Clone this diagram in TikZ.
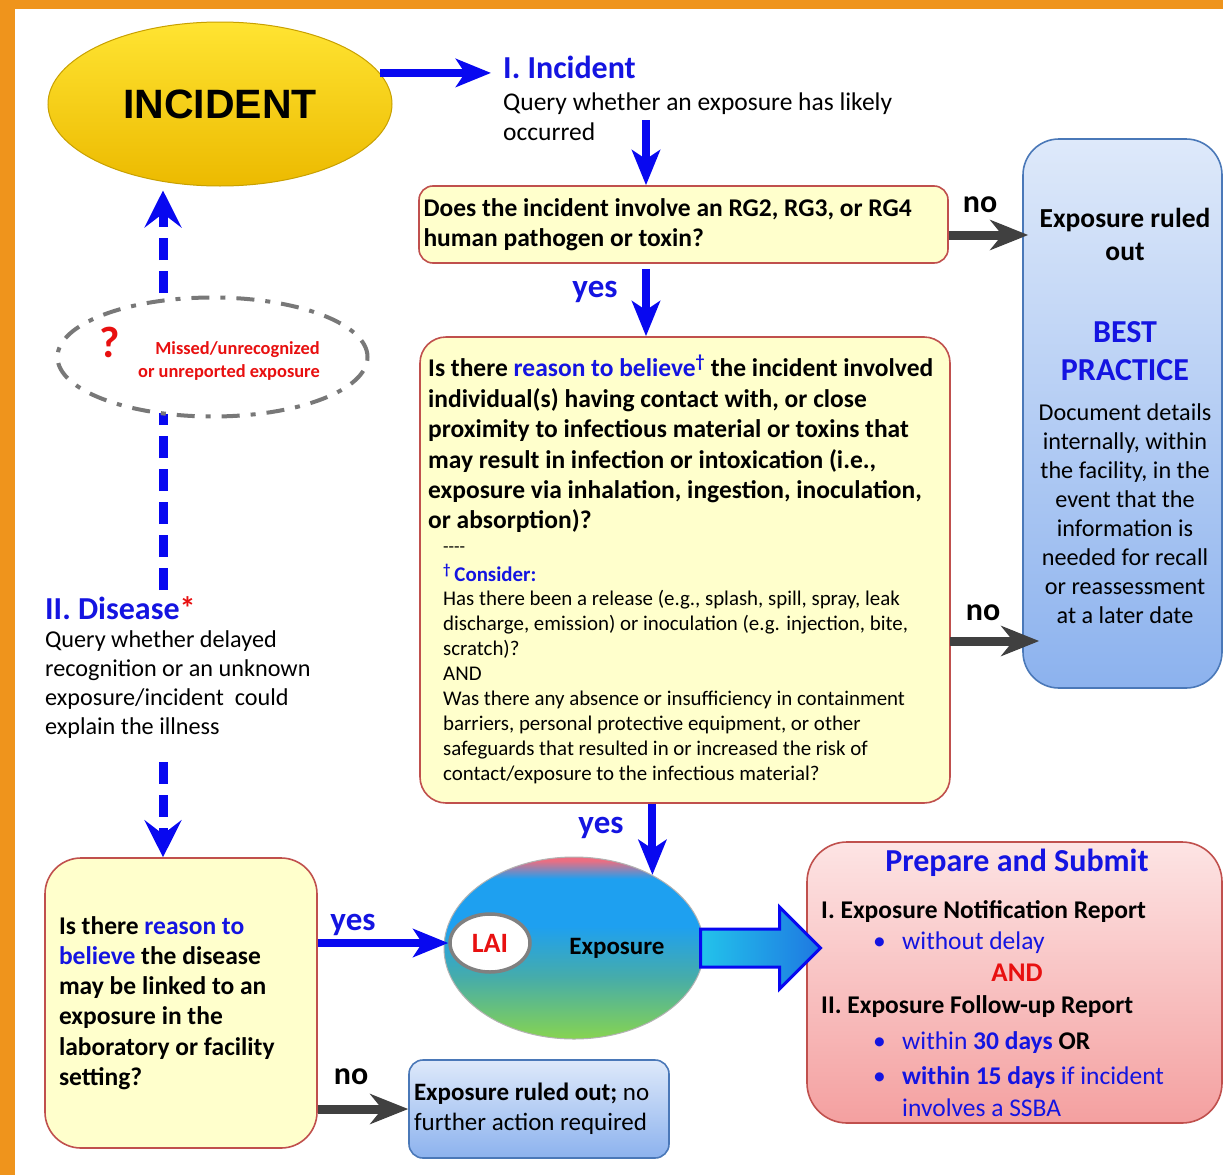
\documentclass[tikz,border=0pt]{standalone}
\usepackage{fontspec}
\usepackage{xcolor}
\setmainfont{Carlito}
\newfontfamily\arialfont{Liberation Sans}
\usetikzlibrary{arrows.meta,shapes.geometric}

\definecolor{frameorange}{RGB}{239,148,28}
\definecolor{boxyellow}{RGB}{255,255,204}
\definecolor{boxred}{RGB}{192,80,77}
\definecolor{textblue}{RGB}{20,20,225}
\definecolor{arrowblue}{RGB}{8,8,240}
\definecolor{arrowgray}{RGB}{64,64,64}
\definecolor{textred}{RGB}{232,16,16}
\definecolor{paleblue}{RGB}{222,233,250}
\definecolor{midblue}{RGB}{140,178,238}
\definecolor{edgeblue}{RGB}{74,120,184}
\definecolor{palepink}{RGB}{253,228,228}
\definecolor{midpink}{RGB}{244,160,160}
\definecolor{goldtop}{RGB}{255,228,50}
\definecolor{goldbottom}{RGB}{236,186,0}
\definecolor{goldedge}{RGB}{200,160,0}
\definecolor{expgreen}{RGB}{135,212,80}
\definecolor{expteal}{RGB}{70,172,170}
\definecolor{expblue}{RGB}{30,160,240}
\definecolor{exppink}{RGB}{235,110,130}
\definecolor{dashgray}{RGB}{120,120,120}
\definecolor{cyanleft}{RGB}{35,195,235}
\definecolor{blueright}{RGB}{30,120,225}

\pgfdeclareverticalshading{exposureshade}{100bp}{color(0bp)=(expgreen); color(25bp)=(expgreen); color(42bp)=(expteal); color(56bp)=(expblue); color(69bp)=(expblue); color(74bp)=(exppink); color(100bp)=(exppink)}

\newcommand{\fsz}[2]{\fontsize{#1}{#2}\selectfont}

\begin{document}
\begin{tikzpicture}[x=1pt, y=-1pt,
  lbl/.style={inner sep=0pt},
  yellowbox/.style={draw=boxred, line width=1.6pt, fill=boxyellow, inner sep=0pt},
  bluebox/.style={draw=edgeblue, line width=1.6pt, top color=paleblue, bottom color=midblue, inner sep=0pt},
  bluearrow/.style={draw=arrowblue, line width=8pt, -{Stealth[length=35pt, width=28pt, inset=9pt]}},
  grayarrow/.style={draw=arrowgray, line width=9pt, -{Stealth[length=38pt, width=30pt, inset=12pt]}},
  dasharrow/.style={draw=arrowblue, line width=9pt, dash pattern=on 22pt off 11pt, -{Stealth[length=37pt, width=37pt, inset=14pt]}}]
\useasboundingbox (0,0) rectangle (1223,1175);
\fill[frameorange] (0,0) rectangle (1223,1175);
\fill[white] (15,9) rectangle (1223,1175);

\node[ellipse, minimum width=344pt, minimum height=164pt, inner sep=0pt, draw=goldedge, line width=1pt, top color=goldtop, bottom color=goldbottom] (inc) at (220,104) {\arialfont\bfseries\fsz{41}{41}INCIDENT};
\node[lbl, anchor=west, text=textblue, font=\bfseries\fsz{32}{36}] (inchead) at (503,67) {I. Incident};
\node[lbl, anchor=west, align=flush left, font=\fsz{25.5}{30}] (incq) at (503,117) {Query whether an exposure has likely\\occurred};
\draw[bluearrow, shorten >=12pt] (inc.11.5) -- (inc.11.5 -| inchead.west);

\node[yellowbox, rounded corners=14pt, minimum width=529pt, minimum height=77pt, text width=520pt, align=flush left, font=\bfseries\fsz{25.5}{30.4}] (q1) at (683.5,224.5) {Does the incident involve an RG2, RG3, or RG4\\human pathogen or toxin?};
\coordinate (a1) at (646,120);
\draw[bluearrow] (a1) -- (a1 |- q1.north);

\node[bluebox, rounded corners=36pt, minimum width=199pt, minimum height=549pt] (rule) at (1122.5,413.5) {};
\node[lbl, align=center, font=\bfseries\fsz{27.5}{33}] (ruledout) at (1125,234) {Exposure ruled\\out};
\node[lbl, align=center, text=textblue, font=\bfseries\fsz{32}{38}] (best) at (1125,351) {BEST\\PRACTICE};
\node[lbl, align=center, font=\fsz{24.2}{29}] (bestdoc) at (1125,513.5) {Document details\\internally, within\\the facility, in the\\event that the\\information is\\needed for recall\\or reassessment\\at a later date};

\node[lbl, font=\bfseries\fsz{32}{34}] (no1) at (980,205) {no};
\coordinate (n1) at ([yshift=-10.5pt]q1.east);
\draw[grayarrow, shorten >=-6pt] (n1) -- (n1 -| rule.west);

\node[yellowbox, rounded corners=26pt, minimum width=530pt, minimum height=466pt] (q2) at (685,570) {};
\node[lbl, anchor=west, align=flush left, font=\bfseries\fsz{25.5}{30.4}] (q2text) at (428,444) {Is there \textcolor{textblue}{reason to believe\textsuperscript{†}} the incident involved\\individual(s) having contact with, or close\\proximity to infectious material or toxins that\\may result in infection or intoxication (i.e.,\\exposure via inhalation, ingestion, inoculation,\\or absorption)?};
\node[lbl, anchor=west, font=\fsz{18}{20}] (dashes) at (443,550) {-{}-{}-{}-};
\node[lbl, anchor=west, text=textblue, font=\bfseries\fsz{20.9}{25}] (consider) at (443,573) {\textsuperscript{†}\,Consider:};
\node[lbl, anchor=west, align=flush left, font=\fsz{20.9}{25}] (considertext) at (443,687.5) {Has there been a release (e.g., splash, spill, spray, leak\\discharge, emission) or inoculation (e.g. injection, bite,\\scratch)?\\AND\\Was there any absence or insufficiency in containment\\barriers, personal protective equipment, or other\\safeguards that resulted in or increased the risk of\\contact/exposure to the infectious material?};

\node[lbl, text=textblue, font=\bfseries\fsz{33}{36}] (yes1) at (595,292) {yes};
\draw[bluearrow, shorten <=5pt] (q1.south -| a1) -- (q2.north -| a1);

\node[lbl, font=\bfseries\fsz{32}{34}] (no2) at (983,613) {no};
\coordinate (n2) at (950,641);
\draw[grayarrow] (n2) -- ([xshift=17pt]n2 -| rule.west);

\node[draw=boxred, line width=1.6pt, top color=palepink, bottom color=midpink, rounded corners=40pt, minimum width=415pt, minimum height=281pt, inner sep=0pt] (prep) at (1014.5,982.5) {};
\node[lbl, text=textblue, font=\bfseries\fsz{32}{36}] (preptitle) at (1017,863) {Prepare and Submit};
\node[lbl, anchor=west, font=\bfseries\fsz{25.5}{28}] (rep1) at (821,912) {I. Exposure Notification Report};
\node[lbl, anchor=west, text=textblue, font=\fsz{25.5}{28}] (rep1a) at (873,943) {\makebox[29pt][l]{•}without delay};
\node[lbl, text=textred, font=\bfseries\fsz{27}{30}] (and) at (1017,973) {AND};
\node[lbl, anchor=west, font=\bfseries\fsz{25.5}{28}] (rep2) at (821,1007) {II. Exposure Follow-up Report};
\node[lbl, anchor=west, text=textblue, font=\fsz{25.5}{28}] (rep2a) at (873,1043) {\makebox[29pt][l]{•}within \textbf{30 days} \textcolor{black}{\textbf{OR}}};
\node[lbl, anchor=west, text=textblue, font=\fsz{25.5}{28}] (rep2b) at (873,1078) {\makebox[29pt][l]{•}\textbf{within 15 days} if incident};
\node[lbl, anchor=west, text=textblue, font=\fsz{25.5}{28}] (rep2c) at (902,1108) {involves a SSBA};

\node[ellipse, minimum width=260pt, minimum height=182pt, inner sep=0pt, shade, shading=exposureshade, draw=gray!60, line width=1pt] (expo) at (574,948) {};
\node[lbl, font=\bfseries\fsz{25}{28}] (expotext) at (617,948) {Exposure};
\node[ellipse, minimum width=80pt, minimum height=58pt, inner sep=0pt, draw=gray, line width=3.5pt, fill=white, text=textred, font=\bfseries\fsz{28}{30}] (lai) at (490,943) {LAI};
\node[lbl, text=textblue, font=\bfseries\fsz{33}{36}] (yes2) at (601,828) {yes};
\draw[bluearrow] (q2.south -| expo.43) -- (expo.43);
\draw[draw=arrowblue, line width=3pt, left color=cyanleft, right color=blueright] ([xshift=-4pt, yshift=19pt]expo.east) -- ++(79,0) -- ++(0,-22) -- ++(41,41) -- ++(-41,41) -- ++(0,-22) -- ++(-79,0) -- cycle;

\coordinate (d1) at (163,590);
\draw[dasharrow, shorten >=4pt] (d1) -- (d1 |- inc.south);
\node[ellipse, minimum width=310pt, minimum height=119pt, inner sep=0pt, fill=white, draw=dashgray, line width=4pt, dash pattern=on 18pt off 11pt on 5pt off 11pt] (missed) at (212.5,357) {};
\node[lbl, text=textred, font=\bfseries\fsz{44}{44}] (qmark) at (110,342) {?};
\node[lbl, anchor=east, align=right, text=textred, font=\bfseries\fsz{18.4}{23}] (missedtext) at (320,361) {Missed/unrecognized\\or unreported exposure};

\node[lbl, anchor=west, text=textblue, font=\bfseries\fsz{32}{36}] (dishead) at (45,608) {II. Disease\textcolor{textred}{*}};
\node[lbl, anchor=west, align=flush left, font=\fsz{24.2}{28.7}] (disq) at (45,684.5) {Query whether delayed\\recognition or an unknown\\exposure/incident\ \ could\\explain the illness};

\node[yellowbox, rounded corners=36pt, minimum width=272pt, minimum height=290pt, text width=244pt, align=flush left, font=\bfseries\fsz{25.5}{30.2}] (q3) at (181,1003) {Is there \textcolor{textblue}{reason to}\\\textcolor{textblue}{believe} the disease\\may be linked to an\\exposure in the\\laboratory or facility\\setting?};
\coordinate (d2) at (163,762);
\draw[dasharrow] (d2) -- (d2 |- q3.north);

\node[bluebox, rounded corners=14pt, minimum width=260pt, minimum height=98pt, text width=250pt, align=flush left, font=\fsz{25}{30}] (done) at (539,1109) {\textbf{Exposure ruled out;} no\\further action required};
\node[lbl, text=textblue, font=\bfseries\fsz{33}{36}] (yes3) at (353,925) {yes};
\draw[bluearrow] (q3.east |- lai.west) -- (lai.west);
\node[lbl, font=\bfseries\fsz{32}{34}] (no3) at (351,1077) {no};
\draw[grayarrow] (q3.east |- done.west) -- (done.west);
\end{tikzpicture}
\end{document}
